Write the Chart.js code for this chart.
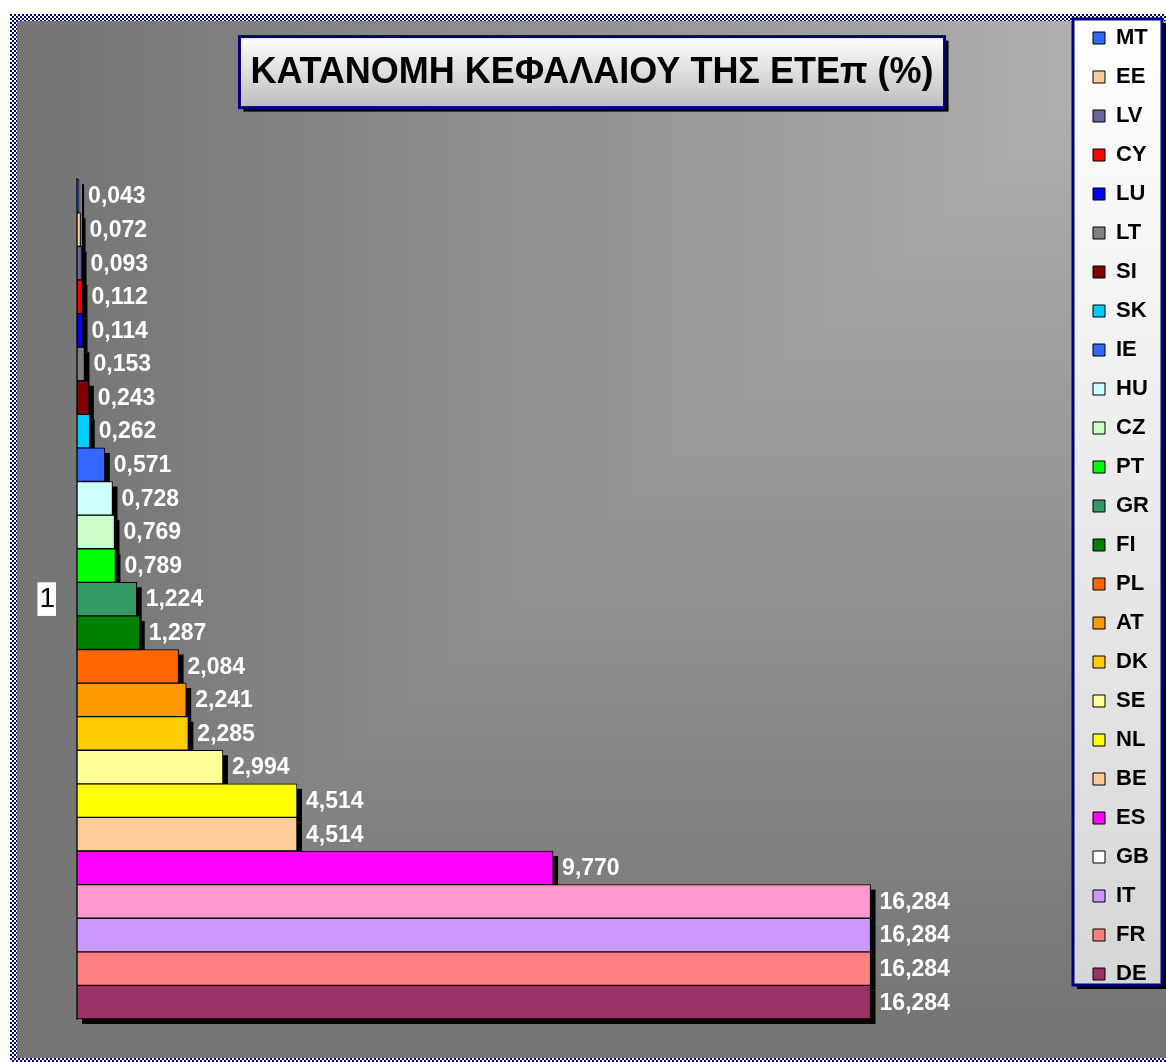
<!DOCTYPE html>
<html>
<head>
<meta charset="utf-8">
<title>ΚΑΤΑΝΟΜΗ ΚΕΦΑΛΑΙΟΥ ΤΗΣ ΕΤΕπ (%)</title>
<script src="https://cdn.jsdelivr.net/npm/chart.js@4.4.1/dist/chart.umd.min.js"></script>
<style>
  html, body { margin: 0; padding: 0; background: #fff; }
</style>
</head>
<body>
<canvas id="capitalChart" width="1166" height="1062"></canvas>
<script>
// capital shares of the EIB (%), one bar per member state, top to bottom
const categories = ["1"];
const countries = ["MT", "EE", "LV", "CY", "LU", "LT", "SI", "SK", "IE", "HU", "CZ", "PT", "GR",
  "FI", "PL", "AT", "DK", "SE", "NL", "BE", "ES", "GB", "IT", "FR", "DE"];
const shares = [0.043, 0.072, 0.093, 0.112, 0.114, 0.153, 0.243, 0.262, 0.571, 0.728, 0.769, 0.789, 1.224,
  1.287, 2.084, 2.241, 2.285, 2.994, 4.514, 4.514, 9.770, 16.284, 16.284, 16.284, 16.284];
const barColors = ["#3366FF", "#FFCC99", "#666699", "#FF0000", "#0000FF", "#808080", "#800000", "#00CCFF",
  "#3366FF", "#CCFFFF", "#CCFFCC", "#00FF00", "#339966", "#008000", "#FF6600", "#FF9900", "#FFCC00",
  "#FFFF99", "#FFFF00", "#FFCC99", "#FF00FF", "#FF99CC", "#CC99FF", "#FF8080", "#993366"];
// the legend of the original shows GB in white
const legendColors = barColors.map((c, i) => (countries[i] === "GB" ? "#FFFFFF" : c));

const chartTitle = "ΚΑΤΑΝΟΜΗ ΚΕΦΑΛΑΙΟΥ ΤΗΣ ΕΤΕπ (%)";
const fontFamily = "'Liberation Sans', Arial, sans-serif";

// draws a framed box with a vertical gradient and a hard black shadow
function drawBox(ctx, x, y, w, h, top, bottom) {
  ctx.fillStyle = "#000";
  ctx.fillRect(x + 4, y + 4, w, h);
  const g = ctx.createLinearGradient(0, y, 0, y + h);
  g.addColorStop(0, top);
  g.addColorStop(1, bottom);
  ctx.fillStyle = g;
  ctx.fillRect(x, y, w, h);
  ctx.strokeStyle = "#000080";
  ctx.lineWidth = 3;
  ctx.strokeRect(x, y, w, h);
}

const backgroundPlugin = {
  id: "background",
  beforeDraw(chart) {
    const ctx = chart.ctx;
    const w = chart.width, h = chart.height;
    ctx.save();
    ctx.fillStyle = "#fff";
    ctx.fillRect(0, 0, w, h);

    // checkered navy frame
    const tile = document.createElement("canvas");
    tile.width = 4;
    tile.height = 4;
    const t = tile.getContext("2d");
    t.fillStyle = "#fff";
    t.fillRect(0, 0, 4, 4);
    t.fillStyle = "#000080";
    t.fillRect(0, 0, 2, 2);
    t.fillRect(2, 2, 2, 2);
    ctx.fillStyle = ctx.createPattern(tile, "repeat");
    ctx.fillRect(10, 14, w - 10, h - 14);

    // grey fill, light in the top right corner
    const x0 = 17, y0 = 21, y1 = 1058;
    ctx.save();
    ctx.beginPath();
    ctx.rect(x0, y0, w - x0, y1 - y0);
    ctx.clip();
    const cx = w, cy = 14, spanX = 1100, spanY = 1000;
    const vg = ctx.createLinearGradient(0, cy, 0, cy + spanY);
    const hg = ctx.createLinearGradient(cx, 0, cx - spanX, 0);
    [vg, hg].forEach((g) => {
      g.addColorStop(0, "#b4b4b4");
      g.addColorStop(1, "#767676");
    });
    ctx.fillStyle = vg;
    ctx.fillRect(x0, y0, w - x0, y1 - y0);
    ctx.beginPath();
    ctx.moveTo(cx, cy);
    ctx.lineTo(cx - 2 * spanX, cy + 2 * spanY);
    ctx.lineTo(cx - 2 * spanX, cy);
    ctx.closePath();
    ctx.fillStyle = hg;
    ctx.fill();
    ctx.restore();

    // title box
    const tb = chart.titleBlock;
    const tOpts = chart.options.plugins.title;
    ctx.font = "bold " + tOpts.font.size + "px " + fontFamily;
    const tw = ctx.measureText(chartTitle).width;
    const tcx = (tb.left + tb.right) / 2;
    const tcy = tb.top + tOpts.padding.top + (tOpts.font.size * 1.2) / 2;
    drawBox(ctx, tcx - tw / 2 - 11, tcy - 36, tw + 22, 71, "#ffffff", "#bdbdbd");

    // legend box
    const lg = chart.legend;
    const hits = lg.legendHitBoxes;
    if (hits && hits.length) {
      const first = hits[0], last = hits[hits.length - 1];
      const bx = lg.left - 3;
      const by = first.top - 8;
      drawBox(ctx, bx, by, 89, last.top + last.height - by, "#ffffff", "#d6d6d6");
    }
    ctx.restore();
  }
};

// black drop shadow behind the bars, then the value labels
const barExtrasPlugin = {
  id: "barExtras",
  beforeDatasetsDraw(chart) {
    const ctx = chart.ctx;
    ctx.save();
    ctx.fillStyle = "#000";
    chart.data.datasets.forEach((ds, i) => {
      chart.getDatasetMeta(i).data.forEach((bar) => {
        const p = bar.getProps(["x", "y", "base", "height"], true);
        ctx.fillRect(p.base + 5, p.y - p.height / 2 + 5, p.x - p.base, p.height);
      });
    });
    ctx.restore();
  },
  afterDatasetsDraw(chart) {
    const ctx = chart.ctx;
    ctx.save();
    ctx.fillStyle = "#fff";
    ctx.font = "bold 23px " + fontFamily;
    ctx.textAlign = "left";
    ctx.textBaseline = "middle";
    chart.data.datasets.forEach((ds, i) => {
      chart.getDatasetMeta(i).data.forEach((bar, j) => {
        const p = bar.getProps(["x", "y"], true);
        const txt = ds.data[j].toFixed(3).replace(".", ",");
        ctx.fillText(txt, p.x + 9, p.y + 1);
      });
    });
    ctx.restore();
  }
};

const datasets = countries.map((name, i) => ({
  label: name,
  data: [shares[i]],
  backgroundColor: barColors[i],
  borderColor: "#000",
  borderWidth: 1,
  borderSkipped: false,
  categoryPercentage: 1,
  barPercentage: 1
}));

const configCapitalChart = {
  type: "bar",
  data: {
    labels: categories,
    datasets: datasets
  },
  options: {
    indexAxis: "y",
    responsive: false,
    animation: false,
    devicePixelRatio: 1,
    layout: {
      padding: { left: 25, right: 7, top: 0, bottom: 43 }
    },
    scales: {
      x: {
        display: false,
        min: 0,
        max: 20.5
      },
      y: {
        grid: { display: false, drawTicks: false },
        border: { display: true, color: "#2a2a2a", width: 2 },
        ticks: {
          color: "#000",
          font: { family: fontFamily, size: 28 },
          padding: 22,
          showLabelBackdrop: true,
          backdropColor: "#fff",
          backdropPadding: { top: 0, bottom: 0, left: 2, right: 1 }
        },
        afterFit(scale) {
          scale.width = 52;
        }
      }
    },
    plugins: {
      title: {
        display: true,
        text: chartTitle,
        color: "#000",
        font: { family: fontFamily, size: 36, weight: "bold", lineHeight: 1.2 },
        padding: { top: 51, bottom: 85 }
      },
      legend: {
        position: "right",
        align: "start",
        title: { display: true, text: "", font: { size: 10, lineHeight: 1 }, padding: 0 },
        labels: {
          color: "#000",
          font: { family: fontFamily, size: 22, weight: "bold" },
          boxWidth: 12,
          boxHeight: 12,
          padding: 17,
          generateLabels(chart) {
            const items = Chart.defaults.plugins.legend.labels.generateLabels(chart);
            items.forEach((item) => {
              item.fillStyle = legendColors[item.datasetIndex];
            });
            return items;
          }
        }
      },
      tooltip: { enabled: false }
    }
  },
  plugins: [backgroundPlugin, barExtrasPlugin]
};

const capitalChart = new Chart(document.getElementById("capitalChart"), configCapitalChart);
</script>
</body>
</html>
